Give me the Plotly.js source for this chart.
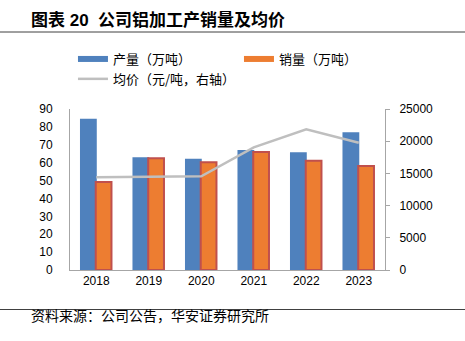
<!DOCTYPE html>
<html><head><meta charset="utf-8">
<script src="https://cdn.plot.ly/plotly-3.0.1.min.js"></script>
<style>html,body{margin:0;padding:0;background:#fff;}#c{width:465px;height:341px;}</style>
</head><body><div id="c"></div>
<script>
const years = ['2018','2019','2020','2021','2022','2023'];
const production = [84.5, 63.0, 62.2, 67.1, 65.8, 77.0];
const sales = [49.2, 62.4, 60.2, 66.0, 61.1, 58.1];
const avgPrice = [14400, 14500, 14550, 19050, 21850, 19770];
const leftTicks = [0,10,20,30,40,50,60,70,80,90];
const rightTicks = [0,5000,10000,15000,20000,25000];
const rightTickText = ['0','5000','10000','15000','20000','25000'];
const names = ['产量（万吨）','销量（万吨）','均价（元/吨，右轴）'];

const L=70, R=385, T=109, B=270;
const px = v => (v-L)/(R-L);
const py = v => (B-v)/(B-T);
const F = 'Liberation Sans, Arial, Noto Sans CJK SC, sans-serif';
const CJK = 'Noto Sans CJK SC, sans-serif';

const traces = [
  {type:'bar', x:years, y:production, marker:{color:'#4F81BD'}, width:0.32, offset:-0.31, showlegend:false, hoverinfo:'skip'},
  {type:'bar', x:years, y:sales, marker:{color:'#ED7D31', line:{color:'#C0504D', width:2}}, width:0.3, offset:-0.01, showlegend:false, hoverinfo:'skip'},
  {type:'scatter', mode:'lines', x:years, y:avgPrice, yaxis:'y2', line:{color:'#BFBFBF', width:2.5}, showlegend:false, hoverinfo:'skip'},
  {type:'scatter', mode:'lines', x:[null], y:[null], name:names[0], line:{color:'#4F81BD', width:6}},
  {type:'scatter', mode:'lines', x:[null], y:[null], name:names[1], line:{color:'#ED7D31', width:6}},
  {type:'scatter', mode:'lines', x:[null], y:[null], name:names[2], line:{color:'#BFBFBF', width:2.5}}
];

const layout = {
  width:465, height:341,
  margin:{l:L, r:465-R, t:T, b:341-B, pad:0},
  paper_bgcolor:'#fff', plot_bgcolor:'#fff',
  font:{family:F, size:12, color:'#000'},
  barmode:'overlay',
  xaxis:{type:'category', showgrid:false, showline:true, linecolor:'#A6A6A6', linewidth:1, ticks:'', tickfont:{size:12, family:F}, fixedrange:true},
  yaxis:{range:[0,90], tickvals:leftTicks, showgrid:false, zeroline:false, showline:true, linecolor:'#A6A6A6', ticks:'outside', ticklen:14, tickcolor:'rgba(0,0,0,0)', tickfont:{size:12, family:F}},
  yaxis2:{range:[0,25000], tickvals:rightTicks, ticktext:rightTickText, overlaying:'y', side:'right', showgrid:false, zeroline:false, showline:true, linecolor:'#A6A6A6', ticks:'outside', ticklen:4, tickcolor:'#A6A6A6', ticklabelstandoff:7, tickfont:{size:12, family:F}},
  legend:{orientation:'h', x:-0.0001, y:py(44), xanchor:'left', yanchor:'top', indentation:3, entrywidth:118, entrywidthmode:'pixels', itemwidth:30, font:{family:CJK, size:13, color:'#000'}, bgcolor:'rgba(0,0,0,0)', tracegroupgap:0},
  shapes:[
    {type:'line', xref:'paper', yref:'paper', x0:px(0), x1:px(465), y0:py(32), y1:py(32), line:{color:'#404040', width:1}},
    {type:'line', xref:'paper', yref:'paper', x0:px(0), x1:px(465), y0:py(309.5), y1:py(309.5), line:{color:'#404040', width:1}}
  ],
  annotations:[
    {xref:'paper', yref:'paper', x:px(29), y:py(20), xanchor:'left', yanchor:'middle', showarrow:false, text:'<b>图表 20  公司铝加工产销量及均价</b>', font:{family:'Liberation Sans, Noto Sans CJK SC, sans-serif', size:17, color:'#000'}},
    {xref:'paper', yref:'paper', x:px(29), y:py(315), xanchor:'left', yanchor:'middle', showarrow:false, text:'资料来源：公司公告，华安证券研究所', font:{family:CJK, size:14, color:'#000'}}
  ]
};
Plotly.newPlot('c', traces, layout, {displayModeBar:false, staticPlot:true});
</script></body></html>
